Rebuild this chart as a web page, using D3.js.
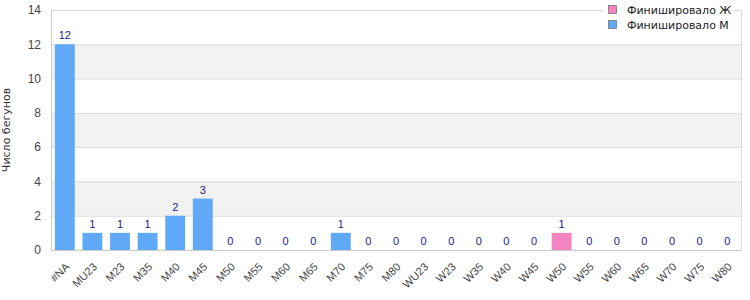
<!DOCTYPE html>
<html>
<head>
<meta charset="utf-8">
<script src="https://cdn.jsdelivr.net/npm/d3@7"></script>
<style>
  body { margin: 0; background: #fff; }
  svg { display: block; font-family: "Liberation Sans", Arial, sans-serif; }
</style>
</head>
<body>
<div id="container"></div>
<script>
const width = 750;
const height = 300;
const margin = {top: 10, right: 9, bottom: 50, left: 51};

// DATA
const categories = ["#NA", "MU23", "M23", "M35", "M40", "M45", "M50", "M55", "M60", "M65",
    "M70", "M75", "M80", "WU23", "W23", "W35", "W40", "W45", "W50", "W55",
    "W60", "W65", "W70", "W75", "W80"];
const finishedM = [12, 1, 1, 1, 2, 3, 0, 0, 0, 0, 1, 0, 0, 0, 0, 0, 0, 0, 0, 0, 0, 0, 0, 0, 0];
const finishedW = [0, 0, 0, 0, 0, 0, 0, 0, 0, 0, 0, 0, 0, 0, 0, 0, 0, 0, 1, 0, 0, 0, 0, 0, 0];
const seriesNames = ["Финишировало Ж", "Финишировало М"];
const yTicks = [0, 2, 4, 6, 8, 10, 12, 14];

const colors = {"Финишировало Ж": "#f285bf", "Финишировало М": "#60a9f6"};

const svg = d3.select("#container").append("svg")
    .attr("width", width)
    .attr("height", height);

const plotW = width - margin.left - margin.right;
const plotH = height - margin.top - margin.bottom;

const g = svg.append("g")
    .attr("transform", "translate(" + margin.left + "," + margin.top + ")");

// SCALES
const xScale = d3.scaleBand().domain(categories).range([0, plotW]).paddingInner(0.28).paddingOuter(0.14);
const yScale = d3.scaleLinear().domain([0, 14]).range([plotH, 0]);

// BANDS
for (let i = 0; i < yTicks.length - 1; i++) {
    if (i % 2 === 1) {
        g.append("rect")
            .attr("x", 0)
            .attr("y", yScale(yTicks[i + 1]))
            .attr("width", plotW)
            .attr("height", yScale(yTicks[i]) - yScale(yTicks[i + 1]))
            .attr("fill", "#f2f2f2");
    }
}

// GRID
g.selectAll(".grid")
    .data(yTicks)
    .enter()
    .append("line")
    .attr("x1", 0)
    .attr("x2", plotW)
    .attr("y1", d => yScale(d) + 0.5)
    .attr("y2", d => yScale(d) + 0.5)
    .attr("stroke", "#dcdcdc");

g.append("rect")
    .attr("x", 0.5).attr("y", 0.5)
    .attr("width", plotW).attr("height", plotH)
    .attr("fill", "none")
    .attr("stroke", "#dcdcdc");

// BARS (stacked)
const rows = categories.map((c, i) => ({cat: c, "Финишировало М": finishedM[i], "Финишировало Ж": finishedW[i]}));
const stack = d3.stack().keys(["Финишировало М", "Финишировало Ж"]);
const stacked = stack(rows);

g.selectAll(".series")
    .data(stacked)
    .enter()
    .append("g")
    .attr("fill", d => colors[d.key])
    .selectAll("rect")
    .data(d => d)
    .enter()
    .append("rect")
    .attr("x", d => xScale(d.data.cat))
    .attr("y", d => yScale(d[1]))
    .attr("width", xScale.bandwidth())
    .attr("height", d => yScale(d[0]) - yScale(d[1]));

// VALUE LABELS
g.selectAll(".val")
    .data(rows)
    .enter()
    .append("text")
    .attr("x", d => xScale(d.cat) + xScale.bandwidth() / 2)
    .attr("y", d => yScale(d["Финишировало М"] + d["Финишировало Ж"]) - 5)
    .attr("text-anchor", "middle")
    .attr("font-size", 11)
    .attr("fill", "#1a1a8a")
    .text(d => d["Финишировало М"] + d["Финишировало Ж"]);

// AXES
g.append("line")
    .attr("x1", 0).attr("x2", plotW)
    .attr("y1", plotH + 0.5).attr("y2", plotH + 0.5)
    .attr("stroke", "#cccccc");
g.append("line")
    .attr("x1", 0.5).attr("x2", 0.5)
    .attr("y1", 0).attr("y2", plotH)
    .attr("stroke", "#cccccc");

const yaxis = d3.axisLeft(yScale).tickValues(yTicks).tickSize(0).tickPadding(10);
const yG = g.append("g").call(yaxis);
yG.select(".domain").remove();
yG.selectAll("text")
    .attr("font-size", 12)
    .attr("font-family", "Liberation Sans, Arial, sans-serif")
    .attr("fill", "#444");

const xaxis = d3.axisBottom(xScale).tickSize(0).tickPadding(8);
const xG = g.append("g").attr("transform", "translate(0," + plotH + ")").call(xaxis);
xG.select(".domain").remove();
xG.selectAll("text")
    .attr("font-size", 11)
    .attr("font-family", "Liberation Sans, Arial, sans-serif")
    .attr("fill", "#444")
    .attr("text-anchor", "end")
    .attr("dy", "0.35em")
    .attr("transform", "translate(-3,9) rotate(-45)");

svg.append("text")
    .attr("transform", "translate(10," + (margin.top + plotH / 2) + ") rotate(-90)")
    .attr("text-anchor", "middle")
    .attr("font-size", 11)
    .attr("fill", "#333")
    .attr("font-family", "DejaVu Sans, sans-serif")
    .text("Число бегунов");

// LEGEND
const legend = svg.append("g").attr("transform", "translate(603,0)");
legend.append("rect")
    .attr("x", 0).attr("y", 0)
    .attr("width", 132).attr("height", 34)
    .attr("fill", "#fff");
seriesNames.forEach((name, i) => {
    legend.append("rect")
        .attr("x", 5.5).attr("y", 5.5 + i * 15)
        .attr("width", 8).attr("height", 8)
        .attr("fill", colors[name])
        .attr("stroke", "#777")
        .attr("stroke-width", 0.8);
    legend.append("text")
        .attr("x", 24).attr("y", 10 + i * 15)
        .attr("dy", "0.35em")
        .attr("font-size", 11)
        .attr("font-family", "DejaVu Sans, sans-serif")
        .attr("fill", "#222")
        .text(name);
});
</script>
</body>
</html>
